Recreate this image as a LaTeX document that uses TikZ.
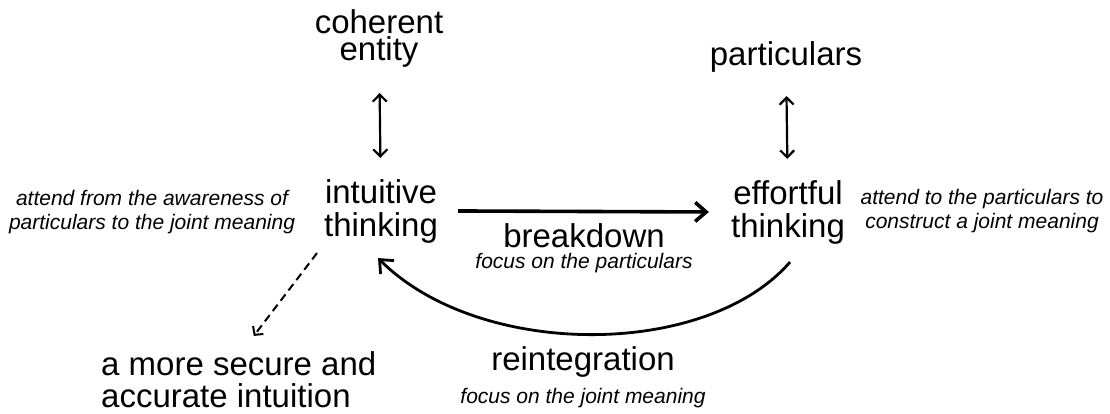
\documentclass[tikz,border=0pt]{standalone}
\usepackage{fontspec}
\setmainfont{Liberation Sans}
\usetikzlibrary{
    arrows.meta,
    positioning
}

\begin{document}
\begin{tikzpicture}[
        x=1pt, y=-1pt,
        term/.style={align=center, inner sep=0pt, font=\fontsize{33}{33}\selectfont},
        note/.style={align=center, inner sep=0pt, font=\fontsize{21}{24}\selectfont\itshape},
        link/.style={line width=2.2pt, {Straight Barb[length=7pt, width=14pt]}-{Straight Barb[length=7pt, width=14pt]}},
        flow/.style={line width=3.6pt, -{Straight Barb[length=11pt, width=19pt]}},
        back/.style={line width=2.8pt, -{Straight Barb[length=11pt, width=19pt]}},
        hint/.style={line width=2pt, dash pattern=on 8pt off 5pt, -{Straight Barb[length=6pt, width=13pt]}}
    ]
        \useasboundingbox (0, 0) rectangle (1110, 413);

        % Two ways of thinking
        \node[term, anchor=base] (int) at (381, 236) {intuitive\\thinking};
        \node[term, anchor=base] (eff) at (788, 237) {effortful\\thinking};

        % What each one attends to
        \node[term, anchor=base] (coh) at (379, 60) {coherent\\[-6pt]entity};
        \node[term, anchor=base] (part) at (786, 65) {particulars};
        \draw[link, shorten <=26pt, shorten >=21pt] (coh) -- (int);
        \draw[link, shorten <=24pt, shorten >=21pt] (part) -- (eff);

        % Side notes
        \node[note, anchor=base] (intnote) at (152, 229) {attend from the awareness of\\particulars to the joint meaning};
        \node[note, anchor=base] (effnote) at (982, 228) {attend to the particulars to\\construct a joint meaning};

        % Breakdown
        \draw[flow] ([xshift=20pt]int.east) -- ([xshift=-22pt]eff.west);
        \node[term, anchor=base] (brk) at (584, 247) {breakdown};
        \node[note, below=6pt of brk] (brknote) {focus on the particulars};

        % Reintegration
        \draw[back] ([xshift=2pt, yshift=-18pt]eff.south) .. controls +(-84, 97) and +(101, 101) .. ([xshift=-3pt, yshift=-15pt]int.south);
        \node[term, anchor=base] (reint) at (583, 370) {reintegration};
        \node[note, below=11pt of reint] (reintnote) {focus on the joint meaning};

        % Outcome
        \node[term, align=left, anchor=base west] (sec) at (101, 407) {a more secure and\\[-1pt]accurate intuition};
        \draw[hint] ([xshift=-64pt, yshift=-10pt]int.south) -- ([xshift=15pt, yshift=15pt]sec.north);
    \end{tikzpicture}
\end{document}
